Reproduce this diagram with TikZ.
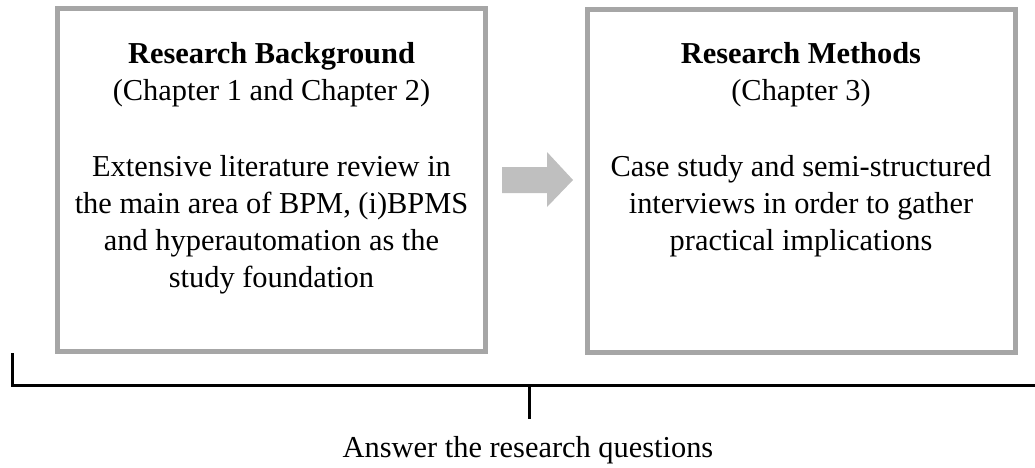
\documentclass[tikz,border=0pt]{standalone}
\usepackage{fontspec}
\setmainfont{Liberation Serif}
\usetikzlibrary{calc}
\definecolor{boxgray}{RGB}{166,166,166}
\definecolor{arrowgray}{RGB}{191,191,191}
\begin{document}
\begin{tikzpicture}[x=1pt,y=-1pt,
  stagebox/.style={draw=boxgray, line width=5pt, minimum width=428pt,
    minimum height=342.5pt, inner sep=0pt},
  boxtext/.style={align=center, inner sep=0pt, anchor=north,
    font=\fontsize{30.4}{37}\selectfont},
  bracket/.style={draw=black, line width=3pt},
  ]
  \useasboundingbox (0,0) rectangle (1035,468);

  % the two stage boxes
  \node[stagebox] (bg) at (271.5,179.75) {};
  \node[stagebox] (rm) at (801,181.25) {};

  \node[boxtext] (bgtext) at (271.5,42)
    {\textbf{Research Background}\\(Chapter 1 and Chapter 2)\\[39pt]
     Extensive literature review in\\the main area of BPM, (i)BPMS\\
     and hyperautomation as the\\study foundation};
  \node[boxtext] (rmtext) at (801,42)
    {\textbf{Research Methods}\\(Chapter 3)\\[39pt]
     Case study and semi-structured\\interviews in order to gather\\
     practical implications};

  % block arrow between the boxes
  \fill[arrowgray] (502,167) -- (547,167) -- (547,152) -- (573,180)
    -- (547,207) -- (547,193) -- (502,193) -- cycle;

  % bracket joining both stages to the conclusion
  \coordinate (lt) at (12,353);
  \coordinate (rt) at (1035,385.5);
  \coordinate (stemtop) at (529,385.5);
  \coordinate (stembot) at (529,419);
  \draw[bracket] (lt) |- (rt);
  \draw[bracket] (stemtop) -- (stembot);

  \node[anchor=base, inner sep=0pt, font=\fontsize{30.4}{37}\selectfont]
    (answer) at (528,457) {Answer the research questions};
\end{tikzpicture}
\end{document}
